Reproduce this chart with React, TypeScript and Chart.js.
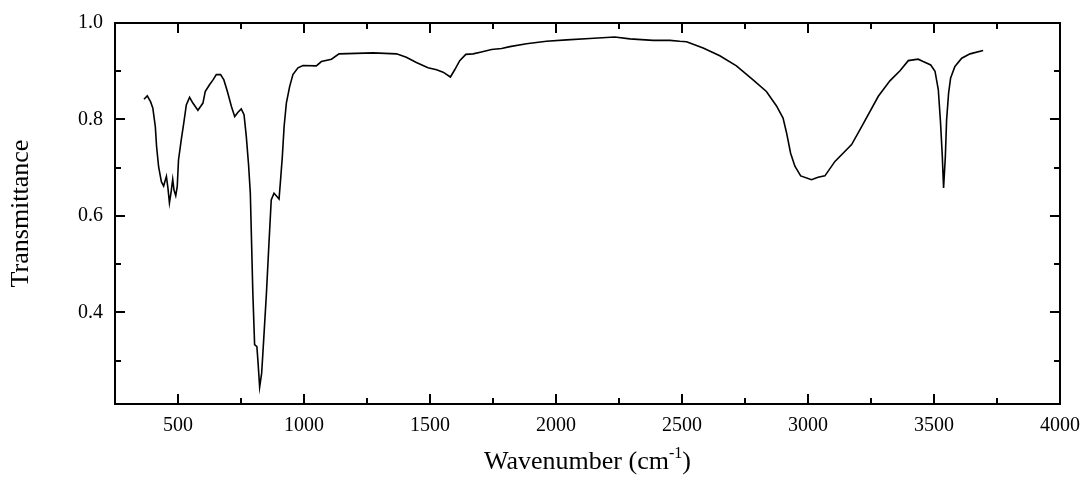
import React, { useEffect, useRef } from "react";
import { Chart, registerables } from "chart.js";

Chart.register(...registerables);

// Spectrum values
const wavenumbers: number[] = [
  365, 378, 391, 400, 410, 415, 423, 434, 443, 454, 460, 466, 473, 479, 484, 491, 497,
  502, 513, 523, 533, 546, 559, 579, 599, 608, 625, 639, 652, 669, 682, 696, 712, 725,
  738, 751, 762, 771, 780, 787, 792, 797, 804, 813, 817, 824, 832, 840, 851, 861, 870,
  881, 890, 901, 906, 914, 921, 930, 943, 956, 976, 996, 1049, 1069, 1109, 1139, 1274,
  1367, 1406, 1446, 1492, 1526, 1552, 1581, 1598, 1618, 1642, 1671, 1704, 1744, 1784,
  1817, 1883, 1962, 2042, 2134, 2233, 2293, 2385, 2452, 2491, 2518, 2584, 2650, 2716,
  2782, 2835, 2875, 2901, 2915, 2931, 2948, 2971, 3014, 3040, 3067, 3107, 3173, 3213,
  3279, 3325, 3365, 3398, 3437, 3457, 3487, 3504, 3517, 3526, 3533, 3538, 3545, 3550,
  3558, 3566, 3583, 3610, 3643, 3695,
];

const transmittance: number[] = [
  0.842, 0.849, 0.837, 0.824, 0.785, 0.744, 0.702, 0.671, 0.662, 0.682, 0.658, 0.627,
  0.651, 0.676, 0.654, 0.642, 0.661, 0.716, 0.758, 0.793, 0.83, 0.846, 0.834, 0.819,
  0.834, 0.858, 0.872, 0.882, 0.893, 0.893, 0.882, 0.858, 0.827, 0.806, 0.815, 0.822,
  0.81, 0.765, 0.706, 0.647, 0.544, 0.44, 0.333, 0.329, 0.301, 0.245, 0.274, 0.343,
  0.44, 0.544, 0.633, 0.647, 0.642, 0.635, 0.668, 0.723, 0.785, 0.834, 0.868, 0.893,
  0.907, 0.912, 0.911, 0.92, 0.925, 0.936, 0.938, 0.936, 0.929, 0.918, 0.907, 0.903,
  0.898, 0.888, 0.903, 0.922, 0.935, 0.936, 0.94, 0.945, 0.947, 0.951, 0.957, 0.962,
  0.965, 0.968, 0.971, 0.967, 0.964, 0.964, 0.962, 0.961, 0.948, 0.932, 0.911, 0.882,
  0.858, 0.828, 0.803, 0.772, 0.73, 0.703, 0.683, 0.675, 0.68, 0.683, 0.713, 0.748,
  0.785, 0.848, 0.88, 0.901, 0.922, 0.925, 0.92, 0.913, 0.9, 0.862, 0.793, 0.723,
  0.658, 0.723, 0.799, 0.855, 0.886, 0.91, 0.927, 0.936, 0.943,
];

// Axis ticks
const xMajorTicks: number[] = [500, 1000, 1500, 2000, 2500, 3000, 3500, 4000];
const xMinorTicks: number[] = [750, 1250, 1750, 2250, 2750, 3250, 3750];
const yMajorTicks: number[] = [0.4, 0.6, 0.8, 1.0];
const yMinorTicks: number[] = [0.3, 0.5, 0.7, 0.9];

const X_MIN = 250;
const X_MAX = 4000;
const Y_MIN = 0.21;
const Y_MAX = 1.0;

const SERIF = '"Liberation Serif", "Times New Roman", Times, serif';

const framePlugin = {
  id: "frame",
  afterDraw(chart: any) {
    const { ctx, chartArea, scales } = chart;
    const { left, right, top, bottom } = chartArea;
    const xs = scales.x;
    const ys = scales.y;
    ctx.save();
    ctx.strokeStyle = "#000";
    ctx.lineWidth = 2;
    ctx.lineCap = "butt";
    ctx.strokeRect(left, top, right - left, bottom - top);
    const MAJ = 10;
    const MIN = 6;
    ctx.beginPath();
    const xt = (v: number, len: number) => {
      const p = Math.round(xs.getPixelForValue(v));
      ctx.moveTo(p, bottom);
      ctx.lineTo(p, bottom - len);
      ctx.moveTo(p, top);
      ctx.lineTo(p, top + len);
    };
    const yt = (v: number, len: number) => {
      const p = Math.round(ys.getPixelForValue(v));
      ctx.moveTo(left, p);
      ctx.lineTo(left + len, p);
      ctx.moveTo(right, p);
      ctx.lineTo(right - len, p);
    };
    xMajorTicks.forEach((v) => xt(v, MAJ));
    xMinorTicks.forEach((v) => xt(v, MIN));
    yMajorTicks.forEach((v) => yt(v, MAJ));
    yMinorTicks.forEach((v) => yt(v, MIN));
    ctx.stroke();

    // x-axis title with superscript
    const main1 = "Wavenumber (cm";
    const sup = "-1";
    const main2 = ")";
    const bigFont = `26px ${SERIF}`;
    const supFont = `16px ${SERIF}`;
    ctx.fillStyle = "#000";
    ctx.textBaseline = "alphabetic";
    ctx.textAlign = "left";
    ctx.font = bigFont;
    const w1 = ctx.measureText(main1).width;
    const w3 = ctx.measureText(main2).width;
    ctx.font = supFont;
    const w2 = ctx.measureText(sup).width;
    const total = w1 + w2 + w3;
    let x0 = (left + right) / 2 - total / 2;
    const baseY = 469;
    ctx.font = bigFont;
    ctx.fillText(main1, x0, baseY);
    x0 += w1;
    ctx.font = supFont;
    ctx.fillText(sup, x0, baseY - 11);
    x0 += w2;
    ctx.font = bigFont;
    ctx.fillText(main2, x0, baseY);
    ctx.restore();
  },
};

export default function App() {
  const canvasRef = useRef<HTMLCanvasElement | null>(null);

  useEffect(() => {
    if (!canvasRef.current) return;
    const points = wavenumbers.map((w, i) => ({ x: w, y: transmittance[i] }));
    const chart = new Chart(canvasRef.current, {
      type: "line",
      data: {
        datasets: [
          {
            data: points,
            borderColor: "#000",
            borderWidth: 1.6,
            pointRadius: 0,
            tension: 0,
            fill: false,
          },
        ],
      },
      options: {
        animation: false,
        responsive: true,
        maintainAspectRatio: false,
        parsing: false as any,
        layout: { padding: { top: 23, right: 22, left: 0, bottom: 0 } },
        plugins: {
          legend: { display: false },
          tooltip: { enabled: false },
        },
        scales: {
          x: {
            type: "linear",
            min: X_MIN,
            max: X_MAX,
            grid: { display: false, drawTicks: false },
            border: { display: false },
            afterBuildTicks: (scale: any) => {
              scale.ticks = xMajorTicks.map((v) => ({ value: v }));
            },
            afterFit: (scale: any) => {
              scale.height = 77;
              scale.paddingLeft = 0;
              scale.paddingRight = 0;
            },
            ticks: {
              color: "#000",
              font: { family: SERIF, size: 20 },
              padding: 10,
              maxRotation: 0,
              autoSkip: false,
              callback: (v: any) => String(v),
            },
          },
          y: {
            type: "linear",
            min: Y_MIN,
            max: Y_MAX,
            grid: { display: false, drawTicks: false },
            border: { display: false },
            afterBuildTicks: (scale: any) => {
              scale.ticks = yMajorTicks.map((v) => ({ value: v }));
            },
            afterFit: (scale: any) => {
              scale.width = 115;
              scale.paddingTop = 0;
              scale.paddingBottom = 0;
            },
            title: {
              display: true,
              text: "Transmittance",
              color: "#000",
              font: { family: SERIF, size: 26 },
              padding: { top: 6, bottom: 0 },
            },
            ticks: {
              color: "#000",
              font: { family: SERIF, size: 20 },
              padding: 12,
              autoSkip: false,
              callback: (v: any) => Number(v).toFixed(1),
            },
          },
        },
      },
      plugins: [framePlugin],
    });
    return () => chart.destroy();
  }, []);

  return (
    <div
      style={{
        position: "fixed",
        left: 0,
        top: 0,
        width: 1082,
        height: 481,
        background: "#fff",
      }}
    >
      <canvas ref={canvasRef} />
    </div>
  );
}
